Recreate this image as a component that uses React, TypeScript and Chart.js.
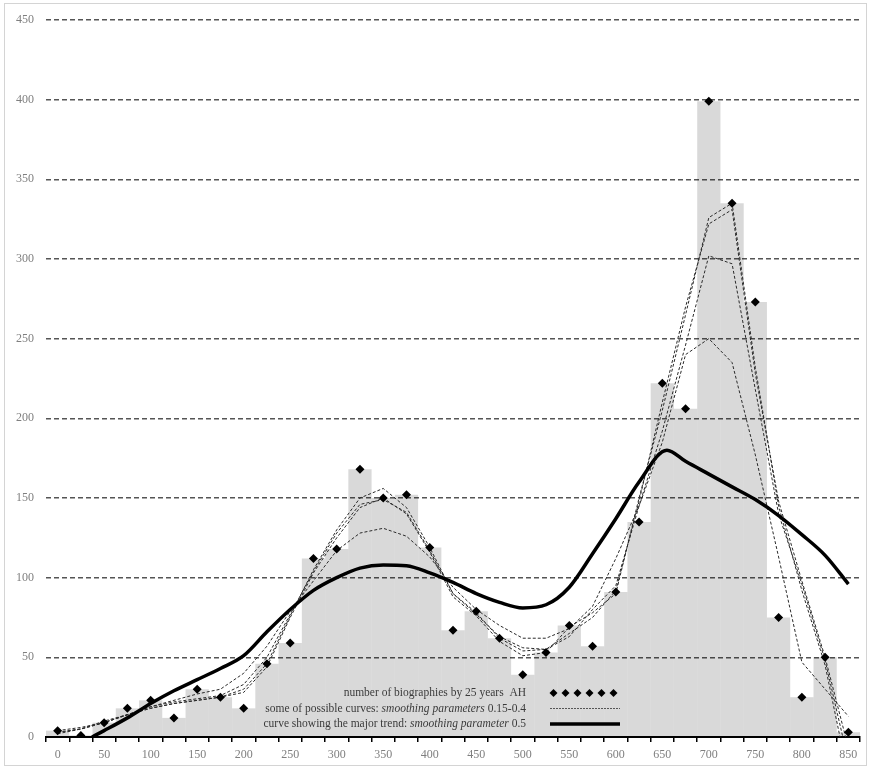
import React, { useEffect, useRef } from 'react';
import { Chart, registerables } from 'chart.js';

Chart.register(...registerables);

// 25-year bins (AH)
const categories = [0, 25, 50, 75, 100, 125, 150, 175, 200, 225, 250, 275, 300, 325, 350, 375, 400, 425, 450, 475, 500, 525, 550, 575, 600, 625, 650, 675, 700, 725, 750, 775, 800, 825, 850];
const biographies = [4, 1, 9, 18, 23, 12, 30, 25, 18, 46, 59, 112, 118, 168, 150, 152, 119, 67, 79, 62, 39, 53, 70, 57, 91, 135, 222, 206, 399, 335, 273, 75, 25, 50, 3];

// x positions of the possible (dashed) curves
const curveX = [0, 25, 50, 75, 100, 125, 150, 175, 200, 225, 250, 275, 300, 325, 350, 375, 400, 425, 450, 475, 500, 525, 550, 575, 600, 625, 650, 675, 700, 725, 750, 775, 800, 825];
const curve015 = [3, 5, 9, 14, 18, 21, 23, 25, 28, 44, 75, 103, 125, 144, 150, 140, 116, 88, 76, 60, 51, 53, 69, 78, 90, 150, 205, 265, 326, 335, 232, 145, 92, 45];
const curve020 = [4, 6, 9, 14, 18, 21, 23, 25, 30, 46, 76, 105, 130, 150, 156, 144, 119, 90, 78, 62, 54, 55, 65, 75, 92, 148, 210, 270, 322, 331, 228, 148, 98, 50];
const curve030 = [3, 5, 9, 14, 19, 22, 24, 26, 33, 50, 77, 104, 128, 146, 149, 141, 117, 90, 77, 63, 56, 55, 63, 80, 95, 145, 192, 246, 302, 297, 218, 140, 96, 48];
const curve040 = [2, 5, 10, 14, 19, 23, 27, 30, 40, 57, 79, 98, 117, 128, 131, 126, 113, 94, 80, 70, 62, 62, 68, 82, 112, 145, 185, 240, 250, 235, 177, 113, 47, 30];
// last point of each dashed curve [x, y]
const curveEnds = [[841, 0], [847, 0], [844, 0], [850, 13]];

// major trend curve (smoothing 0.5)
const trendX = [37, 50, 75, 100, 125, 150, 175, 200, 225, 250, 275, 300, 325, 350, 375, 400, 425, 450, 475, 500, 525, 550, 575, 600, 625, 655, 675, 700, 725, 750, 775, 800, 825, 850];
const trendY = [0, 4, 12, 21, 29, 36, 43, 51, 66, 80, 92, 100, 106, 108, 107.5, 103, 97, 90, 84.5, 81, 83, 94, 115, 137, 160, 180, 173, 165, 157, 149, 139, 127, 114, 96];

const yTicks = [0, 50, 100, 150, 200, 250, 300, 350, 400, 450];

const legendRows = [
  [{ t: 'number of biographies by 25 years  AH', i: false }],
  [{ t: 'some of possible curves: ', i: false }, { t: 'smoothing parameters', i: true }, { t: ' 0.15-0.4', i: false }],
  [{ t: 'curve showing the major trend: ', i: false }, { t: 'smoothing parameter', i: true }, { t: ' 0.5', i: false }],
];

const FONT = "'Liberation Serif', 'DejaVu Serif', serif";

const legendPlugin = {
  id: 'customLegend',
  afterDraw(chart: any) {
    const ctx = chart.ctx as CanvasRenderingContext2D;
    const rightX = 526;
    const rowsY = [693, 708.5, 724];
    ctx.save();
    ctx.textBaseline = 'middle';
    ctx.fillStyle = '#3a3a3a';
    legendRows.forEach((row, r) => {
      let total = 0;
      const widths = row.map((seg) => {
        ctx.font = (seg.i ? 'italic ' : '') + '11.5px ' + FONT;
        const w = ctx.measureText(seg.t).width;
        total += w;
        return w;
      });
      let x = rightX - total;
      row.forEach((seg, k) => {
        ctx.font = (seg.i ? 'italic ' : '') + '11.5px ' + FONT;
        ctx.textAlign = 'left';
        ctx.fillText(seg.t, x, rowsY[r]);
        x += widths[k];
      });
    });
    ctx.fillStyle = '#000';
    for (let k = 0; k < 6; k++) {
      const cx = 553.5 + k * 12;
      const cy = rowsY[0];
      const rr = 4;
      ctx.beginPath();
      ctx.moveTo(cx - rr, cy);
      ctx.lineTo(cx, cy - rr);
      ctx.lineTo(cx + rr, cy);
      ctx.lineTo(cx, cy + rr);
      ctx.closePath();
      ctx.fill();
    }
    ctx.strokeStyle = '#555';
    ctx.lineWidth = 1;
    ctx.setLineDash([2, 1]);
    ctx.beginPath();
    ctx.moveTo(550, rowsY[1]);
    ctx.lineTo(620, rowsY[1]);
    ctx.stroke();
    ctx.setLineDash([]);
    ctx.strokeStyle = '#000';
    ctx.lineWidth = 3.5;
    ctx.beginPath();
    ctx.moveTo(550, rowsY[2]);
    ctx.lineTo(620, rowsY[2]);
    ctx.stroke();
    ctx.restore();
  },
};

function curvePoints(values: number[], end: number[]) {
  const pts = values.map((v, i) => ({ x: curveX[i], y: v }));
  pts.push({ x: end[0], y: end[1] });
  return pts;
}

export default function App() {
  const canvasRef = useRef<HTMLCanvasElement | null>(null);

  useEffect(() => {
    document.body.style.margin = '0';
    const canvas = canvasRef.current;
    if (!canvas) return;

    const dashed = (values: number[], end: number[]) => ({
      type: 'line' as const,
      data: curvePoints(values, end),
      xAxisID: 'xl',
      yAxisID: 'y',
      borderColor: '#2a2a2a',
      borderWidth: 1,
      borderDash: [3, 2],
      pointRadius: 0,
      tension: 0,
      fill: false,
      order: 3,
    });

    const chart = new Chart(canvas, {
      type: 'bar',
      data: {
        labels: categories.map(String),
        datasets: [
          {
            type: 'bar',
            data: biographies,
            xAxisID: 'x',
            yAxisID: 'y',
            backgroundColor: 'rgba(0,0,0,0.15)',
            borderWidth: 0,
            barPercentage: 1,
            categoryPercentage: 1,
            inflateAmount: 0,
            grouped: false,
            order: 10,
          } as any,
          dashed(curve015, curveEnds[0]),
          dashed(curve020, curveEnds[1]),
          dashed(curve030, curveEnds[2]),
          dashed(curve040, curveEnds[3]),
          {
            type: 'line',
            data: trendX.map((x, i) => ({ x, y: trendY[i] })),
            xAxisID: 'xl',
            yAxisID: 'y',
            borderColor: '#000',
            borderWidth: 3.5,
            pointRadius: 0,
            cubicInterpolationMode: 'monotone',
            fill: false,
            order: 2,
          } as any,
          {
            type: 'line',
            data: categories.map((x, i) => ({ x, y: biographies[i] })),
            xAxisID: 'xl',
            yAxisID: 'y',
            showLine: false,
            pointStyle: 'rectRot',
            pointRadius: 4.5,
            pointBackgroundColor: '#000',
            pointBorderColor: '#000',
            pointBorderWidth: 0,
            order: 1,
          } as any,
        ],
      },
      options: {
        responsive: false,
        animation: false,
        devicePixelRatio: 1,
        events: [],
        layout: { padding: { top: 20, right: 10, left: 0, bottom: 0 } },
        plugins: {
          legend: { display: false },
          tooltip: { enabled: false },
        },
        scales: {
          x: {
            type: 'category',
            offset: true,
            position: 'bottom',
            grid: {
              display: true,
              drawOnChartArea: false,
              drawTicks: true,
              tickLength: 5,
              color: '#000',
              lineWidth: 1.5,
              offset: true,
            },
            border: { display: true, color: '#000', width: 2 },
            ticks: {
              autoSkip: false,
              maxRotation: 0,
              minRotation: 0,
              padding: 6,
              color: '#7f7f7f',
              font: { family: FONT, size: 12 },
              callback: (_v: any, index: number) => (index % 2 === 0 ? String(categories[index]) : ''),
            },
            afterFit: (scale: any) => {
              scale.height = 31;
            },
          },
          xl: {
            type: 'linear',
            display: false,
            offset: false,
            grid: { offset: false },
            min: -12.5,
            max: 862.5,
          },
          y: {
            type: 'linear',
            min: 0,
            max: 450,
            afterBuildTicks: (scale: any) => {
              scale.ticks = yTicks.map((v) => ({ value: v }));
            },
            grid: {
              drawTicks: false,
              color: (c: any) => (c.tick && c.tick.value === 0 ? 'rgba(0,0,0,0)' : '#555'),
              lineWidth: 1.5,
            },
            border: { display: false, dash: [5, 3] },
            ticks: {
              padding: 12,
              color: '#7f7f7f',
              font: { family: FONT, size: 12 },
            },
            afterFit: (scale: any) => {
              scale.width = 46;
            },
          },
        },
      } as any,
      plugins: [legendPlugin],
    });

    return () => {
      chart.destroy();
    };
  }, []);

  return (
    <div style={{ position: 'relative', width: 870, height: 768, background: '#fff' }}>
      <canvas ref={canvasRef} width={870} height={768} style={{ display: 'block' }} />
      <div
        style={{
          position: 'absolute',
          left: 4,
          top: 3,
          width: 861,
          height: 761,
          border: '1px solid #d4d4d4',
          pointerEvents: 'none',
        }}
      />
    </div>
  );
}
